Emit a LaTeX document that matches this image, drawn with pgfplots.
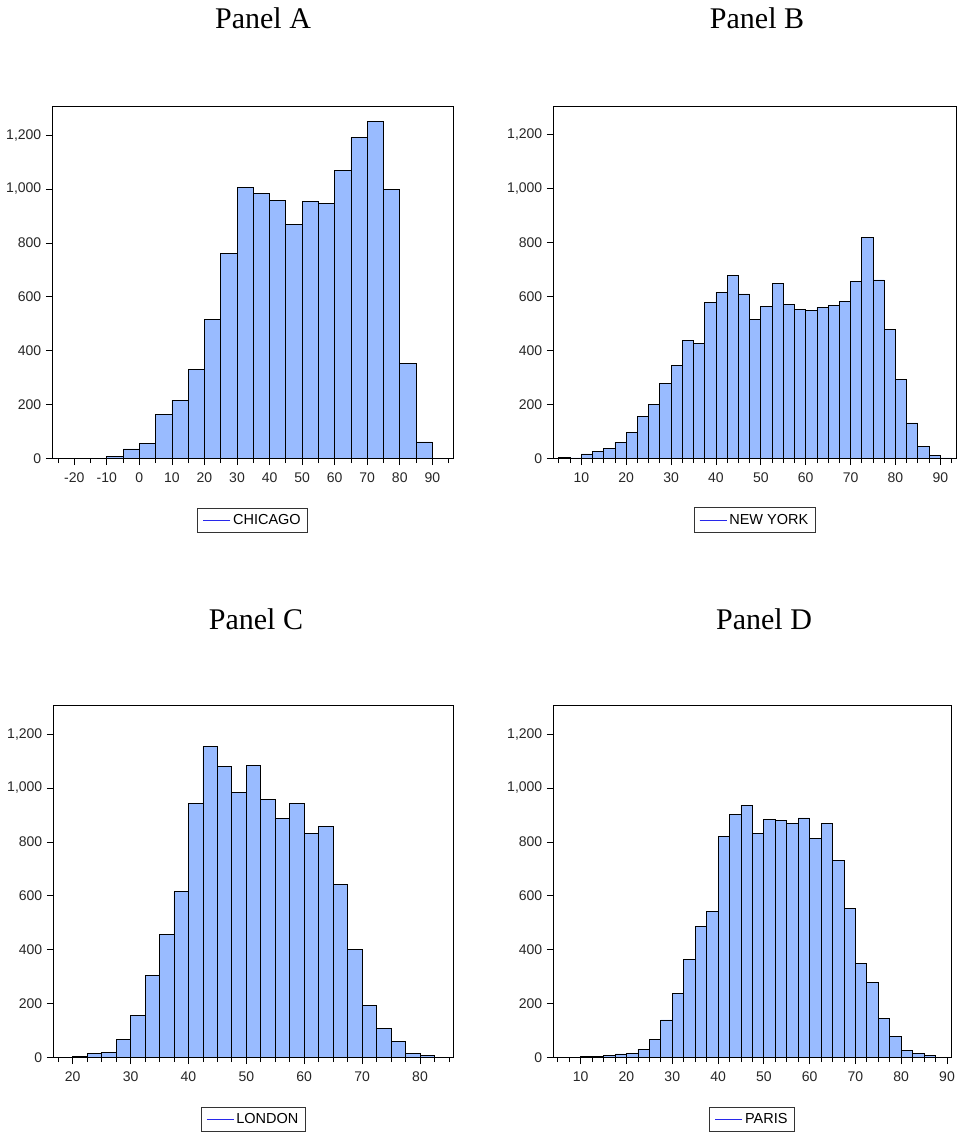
\documentclass[border=0pt]{standalone}
\usepackage{pgfplots}
\pgfplotsset{compat=1.18}
\usepackage{fontspec}
\setmainfont{Liberation Serif}
\newfontfamily\arial{Liberation Sans}
\definecolor{barfill}{RGB}{153,187,255}
\definecolor{legblue}{RGB}{40,40,235}
\pgfplotsset{
  evstyle/.style={
    scale only axis,
    width=#1,
    height=352pt,
    ymin=0, ymax=1305,
    ytick={0,200,400,600,800,1000,1200},
    yticklabels={0,200,400,600,800,{1,000},{1,200}},
    tick align=outside,
    xtick pos=bottom, ytick pos=left,
    major tick length=6.5pt,
    minor tick length=4.5pt,
    tick style={black, line width=0.8pt},
    axis line style={black, line width=1pt},
    ticklabel style={font=\arial\fontsize{14}{14}\selectfont, text=black!85},
    yticklabel style={xshift=-1pt},
    xticklabel style={yshift=-4pt},
    legend style={at={(0.5,-0.139)}, anchor=north, draw=black!80, line width=0.8pt,
      font=\arial\fontsize{14.5}{14.5}\selectfont, inner xsep=5pt, inner ysep=4.5pt},
    legend cell align=left,
    legend image code/.code={\draw[legblue, line width=1.2pt] (0pt,0pt) -- (27pt,0pt);},
    clip=false,
  },
  histbar/.style={ybar interval, fill=barfill, draw=black, line width=0.8pt},
}
\begin{document}
\begin{tikzpicture}[x=1pt,y=1pt]
\useasboundingbox (0,0) rectangle (959,-1137);
\node[anchor=base, font=\fontsize{30}{30}\selectfont] at (263,-29) {Panel A};
\node[anchor=base, font=\fontsize{30}{30}\selectfont] at (757,-29) {Panel B};
\node[anchor=base, font=\fontsize{30}{30}\selectfont] at (256,-629) {Panel C};
\node[anchor=base, font=\fontsize{30}{30}\selectfont] at (764,-629) {Panel D};

% Panel A
\begin{axis}[evstyle=401pt, at={(52.3pt,-458.7pt)}, anchor=south west,
  xmin=-26.75, xmax=96.45,
  xtick={-20,-10,0,10,20,30,40,50,60,70,80,90},
  xticklabels={-20,-10,0,10,20,30,40,50,60,70,80,90},
  minor xtick={-25,-15,-5,5,15,25,35,45,55,65,75,85,95}]
\addplot[histbar] coordinates {
(-25,2) (-20,1) (-15,2) (-10,10) (-5,36) (0,58) (5,165) (10,217) (15,331) (20,517)
(25,760) (30,1004) (35,982) (40,957) (45,868) (50,955) (55,945) (60,1067) (65,1190)
(70,1250) (75,997) (80,353) (85,62) (90,1) (95,1)};
\addlegendentry{CHICAGO}
\end{axis}

% Panel B
\begin{axis}[evstyle=402.7pt, at={(553.3pt,-458.5pt)}, anchor=south west,
  xmin=3.76, xmax=93.5,
  xtick={10,20,30,40,50,60,70,80,90},
  xticklabels={10,20,30,40,50,60,70,80,90},
  minor xtick={5,7.5,12.5,15,17.5,22.5,25,27.5,32.5,35,37.5,42.5,45,47.5,52.5,55,57.5,62.5,65,67.5,72.5,75,77.5,82.5,85,87.5,92.5}]
\addplot[histbar] coordinates {
(5,5) (7.5,2) (10,17) (12.5,27) (15,38) (17.5,61) (20,98) (22.5,157) (25,202) (27.5,278)
(30,345) (32.5,438) (35,427) (37.5,577) (40,617) (42.5,677) (45,610) (47.5,517) (50,564)
(52.5,648) (55,572) (57.5,553) (60,548) (62.5,560) (65,568) (67.5,583) (70,658) (72.5,821)
(75,662) (77.5,479) (80,292) (82.5,132) (85,45) (87.5,11) (90,2) (92.5,2)};
\addlegendentry{NEW YORK}
\end{axis}

% Panel C
\begin{axis}[evstyle=400pt, at={(53.3pt,-1057.7pt)}, anchor=south west,
  xmin=16.65, xmax=85.75,
  xtick={20,30,40,50,60,70,80},
  xticklabels={20,30,40,50,60,70,80},
  minor xtick={17.5,22.5,25,27.5,32.5,35,37.5,42.5,45,47.5,52.5,55,57.5,62.5,65,67.5,72.5,75,77.5,82.5,85}]
\addplot[histbar] coordinates {
(20,4) (22.5,15) (25,21) (27.5,69) (30,158) (32.5,304) (35,458) (37.5,615) (40,943)
(42.5,1153) (45,1079) (47.5,984) (50,1084) (52.5,956) (55,888) (57.5,941) (60,831)
(62.5,856) (65,641) (67.5,402) (70,195) (72.5,109) (75,59) (77.5,17) (80,10) (82.5,10)};
\addlegendentry{LONDON}
\end{axis}

% Panel D
\begin{axis}[evstyle=397.7pt, at={(553.3pt,-1057.7pt)}, anchor=south west,
  xmin=4.02, xmax=90.87,
  xtick={10,20,30,40,50,60,70,80,90},
  xticklabels={10,20,30,40,50,60,70,80,90},
  minor xtick={5,7.5,12.5,15,17.5,22.5,25,27.5,32.5,35,37.5,42.5,45,47.5,52.5,55,57.5,62.5,65,67.5,72.5,75,77.5,82.5,85,87.5}]
\addplot[histbar] coordinates {
(10,4) (12.5,4) (15,9) (17.5,14) (20,16) (22.5,32) (25,67) (27.5,140) (30,238) (32.5,365)
(35,488) (37.5,543) (40,819) (42.5,902) (45,936) (47.5,831) (50,884) (52.5,880) (55,868)
(57.5,889) (60,814) (62.5,870) (65,730) (67.5,554) (70,348) (72.5,280) (75,147) (77.5,80)
(80,28) (82.5,16) (85,9) (87.5,2) (90,2)};
\addlegendentry{PARIS}
\end{axis}
\end{tikzpicture}
\end{document}
